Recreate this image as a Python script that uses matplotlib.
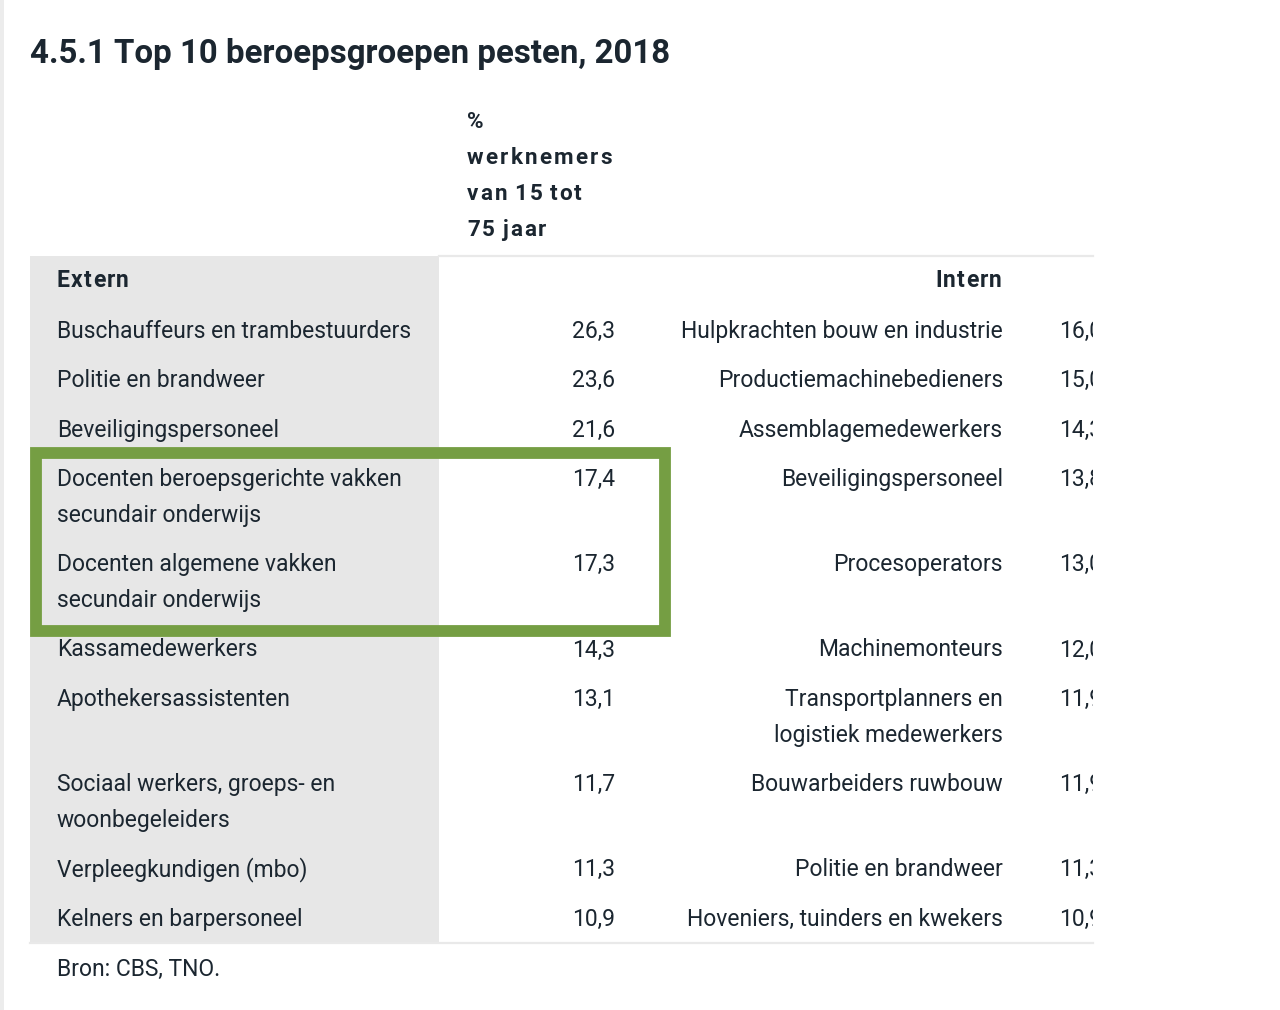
import matplotlib
matplotlib.use("Agg")
import matplotlib.pyplot as plt
from matplotlib.patches import Rectangle
from matplotlib.transforms import Bbox, TransformedBbox

# ---- data ----
title = "4.5.1 Top 10 beroepsgroepen pesten, 2018"
value_header = ["%", "werknemers", "van 15 tot", "75 jaar"]
extern_header = "Extern"
intern_header = "Intern"
extern_labels = [
    "Buschauffeurs en trambestuurders",
    "Politie en brandweer",
    "Beveiligingspersoneel",
    "Docenten beroepsgerichte vakken\nsecundair onderwijs",
    "Docenten algemene vakken\nsecundair onderwijs",
    "Kassamedewerkers",
    "Apothekersassistenten",
    "Sociaal werkers, groeps- en\nwoonbegeleiders",
    "Verpleegkundigen (mbo)",
    "Kelners en barpersoneel",
]
extern_values = [26.3, 23.6, 21.6, 17.4, 17.3, 14.3, 13.1, 11.7, 11.3, 10.9]
intern_labels = [
    "Hulpkrachten bouw en industrie",
    "Productiemachinebedieners",
    "Assemblagemedewerkers",
    "Beveiligingspersoneel",
    "Procesoperators",
    "Machinemonteurs",
    "Transportplanners en\nlogistiek medewerkers",
    "Bouwarbeiders ruwbouw",
    "Politie en brandweer",
    "Hoveniers, tuinders en kwekers",
]
intern_values = [16.0, 15.0, 14.3, 13.8, 13.0, 12.0, 11.9, 11.9, 11.3, 10.9]
highlight_rows = [3, 4]
source = "Bron: CBS, TNO."

# ---- style ----
W, H = 1280, 1010
TXT = "#1b2630"
GRAY = "#e7e7e7"
GREEN = "#759e43"
FONT = "Roboto"
FS = 16.5
LINE = 36.0
ROW = 49.3
BASE = 8  # baseline offset from row centre

fig = plt.figure(figsize=(W / 100, H / 100), dpi=100)
ax = fig.add_axes([0, 0, 1, 1])
ax.set_xlim(0, W)
ax.set_ylim(H, 0)
ax.axis("off")
renderer = fig.canvas.get_renderer()

def fmt(v):
    return f"{v:.1f}".replace(".", ",")

def spaced_text(x, y, s, spacing, **kw):
    """Draw text char by char with extra letter spacing (pixels)."""
    cx = x
    for ch in s:
        if ch == " ":
            cx += kw.get("fontsize", 12) * 0.3
            continue
        t = ax.text(cx, y, ch, va="baseline", ha="left", **kw)
        bb = t.get_window_extent(renderer)
        cx += bb.width + spacing
    return cx - spacing - x

def lines_text(x, y, s, ha, clip=None, **kw):
    for k, line in enumerate(s.split("\n")):
        t = ax.text(x, y + LINE * k, line, va="baseline", ha=ha, **kw)
        if clip is not None:
            t.set_clip_box(clip)
            t.set_clip_on(True)

# left faint border
ax.add_patch(Rectangle((0, 0), 4, H, color="#ececec", lw=0))

# title
ax.text(30, 63, title, fontsize=23.8, fontweight="bold", family=FONT,
        color=TXT, va="baseline", ha="left")

# value header with letter spacing
for k, line in enumerate(value_header):
    spaced_text(467, 128 + LINE * k, line, 2.2, fontsize=16.2,
                fontweight="bold", family=FONT, color=TXT)

# compute row centres (first line)
y_head = 279
ys = []
y = 330
for el, il in zip(extern_labels, intern_labels):
    ys.append(y)
    nl = max(el.count("\n"), il.count("\n")) + 1
    y += ROW + LINE * (nl - 1)
table_top = 256
table_bottom = 943

# gray column + lines
ax.add_patch(Rectangle((30, table_top), 409, table_bottom - table_top,
                       color=GRAY, lw=0, zorder=0))
ax.plot([439, 1093], [table_top, table_top], color="#e9e9e9", lw=1.6, zorder=1)
ax.plot([30, 1093], [table_bottom, table_bottom], color="#e9e9e9", lw=1.6, zorder=1)

hkw = dict(fontsize=FS, fontweight="bold", family=FONT, color=TXT)
spaced_text(57, y_head + BASE, extern_header, 1.2, **hkw)
tmp = ax.text(0, 0, intern_header, fontsize=FS, fontweight="bold", family=FONT)
wi = tmp.get_window_extent(renderer).width + 1.2 * (len(intern_header) - 1)
tmp.remove()
spaced_text(1002 - wi, y_head + BASE, intern_header, 1.2, **hkw)

clipbox = TransformedBbox(Bbox([[0, 0], [1093, H]]), ax.transData)

kw = dict(fontsize=FS, family=FONT, color=TXT)
for yy, el, ev, il, iv in zip(ys, extern_labels, extern_values,
                              intern_labels, intern_values):
    b = yy + BASE
    lines_text(57, b, el, "left", **kw)
    lines_text(615, b, fmt(ev), "right", **kw)
    lines_text(1003, b, il, "right", **kw)
    lines_text(1059, b, fmt(iv), "left", clip=clipbox, **kw)

# green highlight box
i0, i1 = highlight_rows[0], highlight_rows[-1]
top = ys[i0] - 25
bot = ys[i1] + LINE + 32
ax.add_patch(Rectangle((35.5, top), 629, bot - top, fill=False,
                       edgecolor=GREEN, lw=8.5, zorder=5))

ax.text(57, 976, source, fontsize=FS, family=FONT, color=TXT,
        va="baseline", ha="left")

fig.savefig("out.png", dpi=100, facecolor="white")
